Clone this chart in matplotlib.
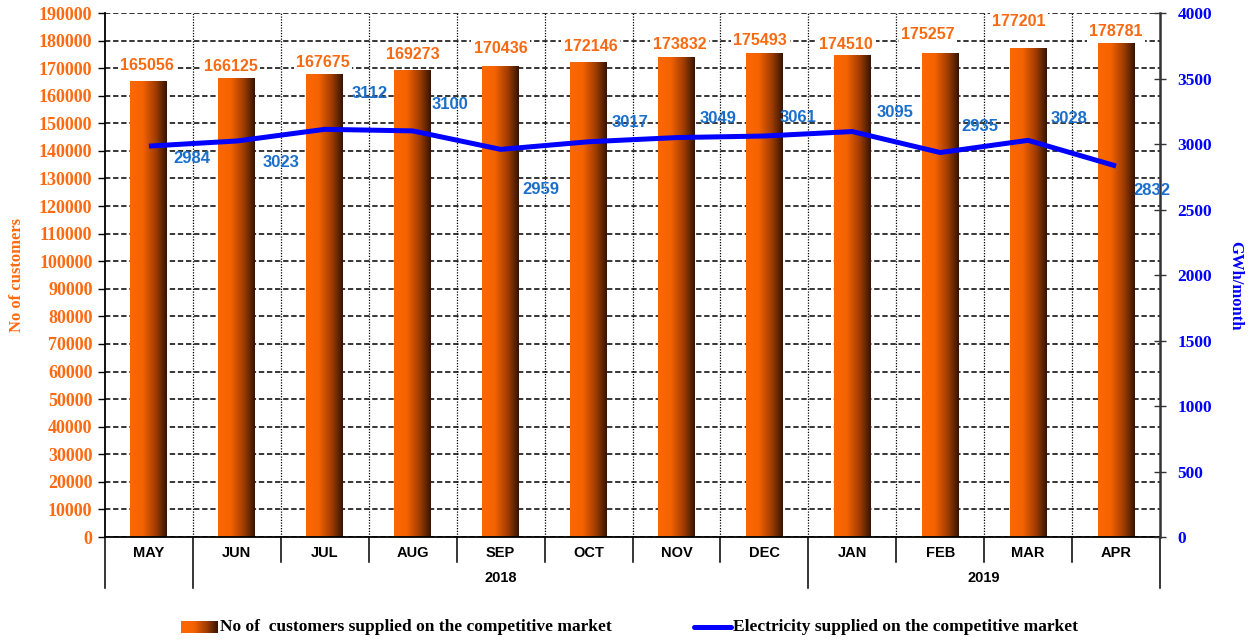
import numpy as np
import matplotlib
matplotlib.use("Agg")
import matplotlib.pyplot as plt
from matplotlib.colors import LinearSegmentedColormap
from matplotlib.transforms import blended_transform_factory
from matplotlib.lines import Line2D

# ---------------- data ----------------
months = ["MAY", "JUN", "JUL", "AUG", "SEP", "OCT", "NOV", "DEC", "JAN", "FEB", "MAR", "APR"]
years = ["2018", "2019"]
customers = [165056, 166125, 167675, 169273, 170436, 172146, 173832, 175493,
             174510, 175257, 177201, 178781]
electricity = [2984, 3023, 3112, 3100, 2959, 3017, 3049, 3061, 3095, 2935, 3028, 2832]

bar_label = "No of  customers supplied on the competitive market"
line_label = "Electricity supplied on the competitive market"

# ---------------- style ----------------
ORANGE = "#FF6A10"
BAR_TXT = "#F86A12"
BLUE = "#0000FF"
LBL_BLUE = "#1A6FCC"
serif = ["Liberation Serif", "DejaVu Serif"]
sans = ["Liberation Sans", "DejaVu Sans"]

# per-label offsets in pixels (dx, dy up)
bar_off = [(-2, 16), (-6, 12), (-2, 12), (0, 16), (0, 18), (2, 16), (3, 13), (-4, 13),
           (-6, 11), (-12, 19), (-9, 27), (0, 12)]
line_off = [(43, -12), (44, -22), (45, 36), (37, 26), (40, -40), (42, 19), (42, 19),
            (34, 19), (43, 19), (40, 26), (41, 22), (36, -24)]

W, H = 1254, 641
fig = plt.figure(figsize=(W / 100, H / 100), dpi=100)
L, R, T, B = 105, 1160, 13, 537
ax = fig.add_axes([L / W, 1 - B / H, (R - L) / W, (B - T) / H])

cmap = LinearSegmentedColormap.from_list(
    "bar", [(0, "#FF6800"), (0.35, "#F46200"), (0.7, "#A03C00"), (1, "#351400")])
grad = np.linspace(0, 1, 256).reshape(1, -1)

x = np.arange(len(months))
bars = ax.bar(x, customers, width=0.42, color="none", edgecolor="none", zorder=2)
for p in bars:
    x0, w, h = p.get_x(), p.get_width(), p.get_height()
    ax.imshow(grad, extent=[x0, x0 + w, 0, h], aspect="auto", cmap=cmap, zorder=2,
              interpolation="bicubic")

ax.set_xlim(-0.5, len(months) - 0.5)
ax.set_ylim(0, 190000)
ax.set_yticks(np.arange(0, 190001, 10000))
ax.set_yticklabels([str(v) for v in range(0, 190001, 10000)], color=ORANGE,
                   fontsize=13, fontweight="bold", family=serif)
ax.tick_params(axis="y", direction="out", length=5, width=1, color="black", pad=4)
ax.set_axisbelow(True)
ax.yaxis.grid(True, color="black", linestyle=(0, (3.5, 1.8)), linewidth=1.1)
ax.set_xticks(np.arange(0.5, len(months) - 1, 1), minor=True)
ax.xaxis.grid(True, which="minor", color="black", linestyle=(0, (1, 1.2)), linewidth=0.9)
ax.set_xticks([])
ax.tick_params(axis="x", which="both", length=0, labelbottom=False)
ax.spines["top"].set_visible(False)
ax.spines["right"].set_visible(False)
ax.spines["left"].set_linewidth(1.3)
ax.spines["bottom"].set_linewidth(1.3)
ax.set_ylabel("No of customers", color=ORANGE, fontsize=12, fontweight="bold",
              family=serif, va="center")
ax.yaxis.set_label_coords(-(L - 17) / (R - L), 0.5)

for i, p in enumerate(bars):
    ax.annotate(str(customers[i]), (p.get_x() + p.get_width() / 2, p.get_height()),
                xytext=bar_off[i], textcoords="offset pixels", ha="center", va="center",
                color=BAR_TXT, fontsize=11.5, fontweight="bold", family=sans, zorder=4,
                bbox=dict(boxstyle="square,pad=0.15", fc="white", ec="none"))

ax2 = ax.twinx()
ax2.set_ylim(0, 4000)
ax2.set_yticks(np.arange(0, 4001, 500))
ax2.set_yticklabels([str(v) for v in range(0, 4001, 500)], color=BLUE, fontsize=12.5,
                    fontweight="bold", family=serif)
ax2.tick_params(axis="y", direction="inout", length=9, width=1, color="#333333", pad=8)
for s in ["top", "left", "bottom"]:
    ax2.spines[s].set_visible(False)
ax2.spines["right"].set_color("#333333")
ax2.spines["right"].set_linewidth(1.8)
ax2.plot(x, electricity, color=BLUE, linewidth=3.6, solid_capstyle="butt", zorder=3)
ax2.set_ylabel("GWh/month", color=BLUE, fontsize=12, fontweight="bold", family=serif,
               rotation=270, va="center")
ax2.yaxis.set_label_coords((1235 - L) / (R - L), 0.48)
for i, v in enumerate(electricity):
    ax2.annotate(str(v), (x[i], v), xytext=line_off[i], textcoords="offset pixels",
                 ha="center", va="center", color=LBL_BLUE, fontsize=12,
                 fontweight="bold", family=sans)

# multi-level category axis
axh = B - T
tr = blended_transform_factory(ax.transData, ax.transAxes)
short_y = -(562 - B) / axh
long_y = -(588 - B) / axh
month_y = -(553 - B) / axh
year_y = -(578 - B) / axh
year_start = [1, 8]
year_end = [7, 11]
long_bounds = {-0.5, 0.5, 7.5, len(months) - 0.5}
for b in np.arange(-0.5, len(months), 1):
    y1 = long_y if b in long_bounds else short_y
    ax.add_line(Line2D([b, b], [0, y1], transform=tr, color="black", lw=1.1,
                       clip_on=False))
for i, m in enumerate(months):
    ax.text(i, month_y, m, transform=tr, ha="center", va="center", fontsize=10.5,
            fontweight="bold", family=sans)
for yr, s, e in zip(years, year_start, year_end):
    ax.text((s + e) / 2, year_y, yr, transform=tr, ha="center", va="center",
            fontsize=10.5, fontweight="bold", family=sans)

# legend (manual)
ly = 1 - 627 / H
lax = fig.add_axes([181 / W, ly - 6 / H, 37 / W, 12 / H])
lax.imshow(grad, aspect="auto", cmap=cmap, interpolation="bicubic")
lax.axis("off")
fig.text(220 / W, ly, bar_label, ha="left", va="center", fontsize=12.5,
         fontweight="bold", family=serif)
fig.add_artist(Line2D([694 / W, 731 / W], [ly, ly], transform=fig.transFigure,
                      color=BLUE, lw=3.6, solid_capstyle="round"))
fig.text(733 / W, ly, line_label, ha="left", va="center", fontsize=12.5,
         fontweight="bold", family=serif)

fig.savefig("out.png", dpi=100)
